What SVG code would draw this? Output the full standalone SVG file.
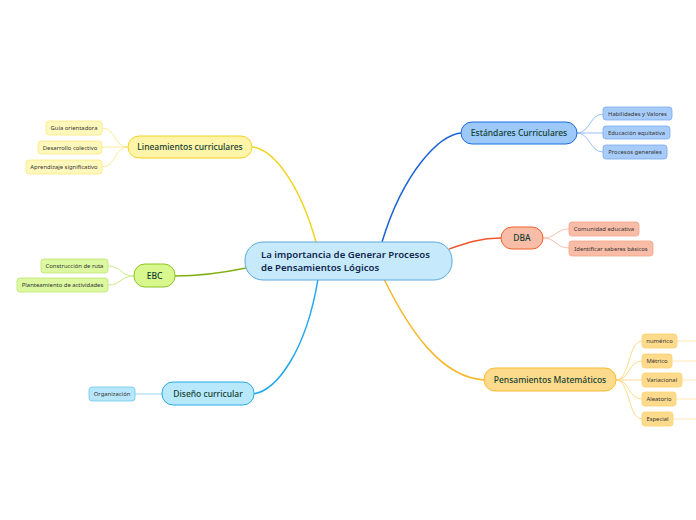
<svg xmlns="http://www.w3.org/2000/svg" width="696" height="520" viewBox="0 0 696 520">
<style>
text{font-family:"Noto Sans","Open Sans","DejaVu Sans",sans-serif}
.main{font-size:8.5px;font-weight:500;fill:#12402f;text-anchor:middle}
.sub{font-size:5.9px;fill:#333;text-anchor:middle}
.ctr{font-size:9.6px;font-weight:600;fill:#12284e}
.c{fill:none;stroke-width:1.5}
.cc{fill:none;stroke-width:0.9}
</style>
<rect width="696" height="520" fill="#fff"/>
<g id="connectors">
<path class="c" stroke="#f0d41c" d="M252,147 C274,149 300,185 316,242"/>
<path class="c" stroke="#1a64d8" d="M461,133 C440,135 404,170 382,242"/>
<path class="c" stroke="#f0562a" d="M501,238 C480,238 466,243 449,249"/>
<path class="c" stroke="#f6b828" d="M384,279 C410,332 442,378 485,380"/>
<path class="c" stroke="#20a8ec" d="M253,394 C276,391 306,352 318,279"/>
<path class="c" stroke="#80b010" d="M175,276 C200,276 222,273 246,268"/>
<g stroke="#f8e890">
<path class="cc" d="M128,147 C114,147 116,128 102,128"/>
<path class="cc" d="M128,147 L102,147"/>
<path class="cc" d="M128,147 C114,147 116,167 102,167"/>
</g>
<g stroke="#c4e880">
<path class="cc" d="M134,276 C120,276 122,266 108,266"/>
<path class="cc" d="M134,276 C120,276 122,285 108,285"/>
</g>
<g stroke="#8ab8f4">
<path class="cc" d="M577,133 C590,133 590,114 603,114"/>
<path class="cc" d="M577,133 L603,133"/>
<path class="cc" d="M577,133 C590,133 590,152 603,152"/>
</g>
<g stroke="#f8b8a0">
<path class="cc" d="M543,238 C556,238 556,229 569,229"/>
<path class="cc" d="M543,238 C556,238 556,248 569,248"/>
</g>
<g stroke="#fcd680">
<path class="cc" d="M616,380 C630,380 628,341 642,341"/>
<path class="cc" d="M616,380 C630,380 628,361 642,361"/>
<path class="cc" d="M616,380 L642,380"/>
<path class="cc" d="M616,380 C630,380 628,399 642,399"/>
<path class="cc" d="M616,380 C630,380 628,419 642,419"/>
</g>
<g stroke="#fde4a8">
<path class="cc" d="M677,341 L696,341"/>
<path class="cc" d="M672,361 L696,361"/>
<path class="cc" d="M682,380 L696,380"/>
<path class="cc" d="M676,399 L696,399"/>
<path class="cc" d="M673,419 L696,419"/>
</g>
<g stroke="#90d4f4">
<path class="cc" d="M162,394 L135,394"/>
</g>
</g>
<g id="central">
<rect x="245" y="242" width="207" height="38" rx="18" fill="#c6eafb" stroke="#5aa8dc" stroke-width="1"/>
<text class="ctr" x="261" y="258">La importancia de Generar Procesos</text>
<text class="ctr" x="261" y="271">de Pensamientos Lógicos</text>
</g>
<g id="lineamientos">
<rect x="128" y="136" width="124" height="22" rx="11" fill="#fff4a8" stroke="#f2d22a" stroke-width="1"/>
<text class="main" x="190" y="150">Lineamientos curriculares</text>
</g>
<g id="guia">
<rect x="46" y="121" width="56" height="14" rx="3" fill="#fff8bc" stroke="#fbe880" stroke-width="0.8"/>
<text class="sub" x="74" y="130">Guía orientadora</text>
</g>
<g id="desarrollo">
<rect x="38" y="141" width="64" height="13" rx="3" fill="#fff8bc" stroke="#fbe880" stroke-width="0.8"/>
<text class="sub" x="70" y="149.5">Desarrollo colectivo</text>
</g>
<g id="aprendizaje">
<rect x="26" y="160" width="76" height="14" rx="3" fill="#fff8bc" stroke="#fbe880" stroke-width="0.8"/>
<text class="sub" x="64" y="169">Aprendizaje significativo</text>
</g>
<g id="ebc">
<rect x="134" y="264" width="41" height="23" rx="11" fill="#d8f88e" stroke="#8ec424" stroke-width="1"/>
<text class="main" x="154.5" y="278.5">EBC</text>
</g>
<g id="construccion">
<rect x="41" y="259" width="67" height="14" rx="3" fill="#dcf8a0" stroke="#bde470" stroke-width="0.8"/>
<text class="sub" x="74.5" y="268">Construcción de ruta</text>
</g>
<g id="planteamiento">
<rect x="17" y="278" width="91" height="14" rx="3" fill="#dcf8a0" stroke="#bde470" stroke-width="0.8"/>
<text class="sub" x="62.5" y="287">Planteamiento de actividades</text>
</g>
<g id="estandares">
<rect x="461" y="122" width="116" height="22" rx="11" fill="#9cc8fa" stroke="#1c6ce0" stroke-width="1"/>
<text class="main" x="519" y="136">Estándares Curriculares</text>
</g>
<g id="habilidades">
<rect x="603" y="107" width="69" height="13" rx="3" fill="#a8ccfa" stroke="#78a8f0" stroke-width="0.8"/>
<text class="sub" x="637.5" y="115.5">Habilidades y Valores</text>
</g>
<g id="educacion">
<rect x="603" y="126" width="67" height="13" rx="3" fill="#a8ccfa" stroke="#78a8f0" stroke-width="0.8"/>
<text class="sub" x="636.5" y="134.5">Educación equitativa</text>
</g>
<g id="procesos">
<rect x="603" y="145" width="64" height="14" rx="3" fill="#a8ccfa" stroke="#78a8f0" stroke-width="0.8"/>
<text class="sub" x="635" y="154">Procesos generales</text>
</g>
<g id="dba">
<rect x="501" y="227" width="42" height="22" rx="11" fill="#f9bca6" stroke="#f0602c" stroke-width="1"/>
<text class="main" x="522" y="241">DBA</text>
</g>
<g id="comunidad">
<rect x="569" y="222" width="70" height="14" rx="3" fill="#f9bca6" stroke="#f4a488" stroke-width="0.8"/>
<text class="sub" x="604" y="231">Comunidad educativa</text>
</g>
<g id="identificar">
<rect x="569" y="241" width="84" height="15" rx="3" fill="#f9bca6" stroke="#f4a488" stroke-width="0.8"/>
<text class="sub" x="611" y="250.5">Identificar saberes básicos</text>
</g>
<g id="pensamientos">
<rect x="484" y="368" width="132" height="23" rx="11" fill="#fedb8c" stroke="#f6bc30" stroke-width="1"/>
<text class="main" x="550" y="382.5">Pensamientos Matemáticos</text>
</g>
<g id="numerico">
<rect x="642" y="334" width="35" height="14" rx="3" fill="#fedb8c" stroke="#fcd070" stroke-width="0.8"/>
<text class="sub" x="659.5" y="343">numérico</text>
</g>
<g id="metrico">
<rect x="642" y="354" width="30" height="14" rx="3" fill="#fedb8c" stroke="#fcd070" stroke-width="0.8"/>
<text class="sub" x="657" y="363">Métrico</text>
</g>
<g id="variacional">
<rect x="642" y="373" width="40" height="14" rx="3" fill="#fedb8c" stroke="#fcd070" stroke-width="0.8"/>
<text class="sub" x="662" y="382">Variacional</text>
</g>
<g id="aleatorio">
<rect x="642" y="392" width="34" height="14" rx="3" fill="#fedb8c" stroke="#fcd070" stroke-width="0.8"/>
<text class="sub" x="659" y="401">Aleatorio</text>
</g>
<g id="especial">
<rect x="642" y="412" width="31" height="14" rx="3" fill="#fedb8c" stroke="#fcd070" stroke-width="0.8"/>
<text class="sub" x="657.5" y="421">Especial</text>
</g>
<g id="diseno">
<rect x="162" y="382" width="92" height="23" rx="11" fill="#b8e8fb" stroke="#28aae8" stroke-width="1"/>
<text class="main" x="208" y="396.5">Diseño curricular</text>
</g>
<g id="organizacion">
<rect x="89" y="387" width="46" height="14" rx="3" fill="#b8e6fb" stroke="#70c8f0" stroke-width="0.8"/>
<text class="sub" x="112" y="396">Organización</text>
</g>
</svg>
